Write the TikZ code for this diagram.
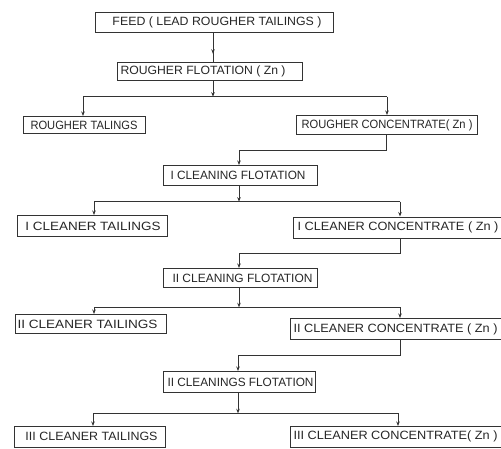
\documentclass[tikz,border=0pt]{standalone}
\usepackage{fontspec}
\setmainfont{Liberation Sans}
\usetikzlibrary{arrows.meta,decorations.markings}
\newcommand{\bxt}[4]{\makebox[#1][l]{\hspace{#2}\resizebox{#3}{\height}{#4}}}
\tikzset{
  flowbox/.style={draw=black!80, line width=1pt, inner xsep=0pt, inner ysep=0pt,
    anchor=north west, text=black!85, font=\fontsize{12}{12}\selectfont},
  link/.style={draw=black!80, line width=1pt},
  arr/.style={link, -{Stealth[length=4.5pt,width=3.5pt]}},
  midarr/.style={link, postaction={decorate},
    decoration={markings, mark=at position #1 with {\arrow{Stealth[length=4.5pt,width=3.5pt]}}}}
}
\begin{document}
\begin{tikzpicture}[x=1pt,y=-1pt]
\useasboundingbox (0,0) rectangle (501,448);
\clip (0,0) rectangle (501,448);
% boxes
\node[flowbox, minimum height=20pt] (feed) at (95,11.7) {\bxt{238pt}{17pt}{209pt}{FEED ( LEAD ROUGHER TAILINGS )}};
\node[flowbox, minimum height=18pt] (rflot) at (117,62) {\bxt{185pt}{3pt}{165pt}{ROUGHER FLOTATION ( Zn )}};
\node[flowbox, minimum height=17pt] (rtail) at (23,116) {\bxt{122pt}{7pt}{107pt}{ROUGHER TALINGS}};
\node[flowbox, minimum height=19pt] (rconc) at (296,115) {\bxt{181pt}{5pt}{171pt}{ROUGHER CONCENTRATE( Zn )}};
\node[flowbox, minimum height=20pt] (cflot1) at (163,165) {\bxt{154pt}{7pt}{135pt}{I CLEANING FLOTATION}};
\node[flowbox, minimum height=21pt] (ctail1) at (17,215) {\bxt{150pt}{8pt}{135pt}{I CLEANER TAILINGS}};
\node[flowbox, minimum height=21pt] (cconc1) at (293,216.5) {\bxt{212pt}{4pt}{201pt}{I CLEANER CONCENTRATE ( Zn )}};
\node[flowbox, minimum height=19pt] (cflot2) at (163,268) {\bxt{154pt}{9pt}{140pt}{II CLEANING FLOTATION}};
\node[flowbox, minimum height=19pt] (ctail2) at (15,314) {\bxt{151pt}{2pt}{140pt}{II CLEANER TAILINGS}};
\node[flowbox, minimum height=21pt] (cconc2) at (290,318) {\bxt{215pt}{3pt}{204pt}{II CLEANER CONCENTRATE ( Zn )}};
\node[flowbox, minimum height=21pt] (cflot3) at (163,371) {\bxt{152pt}{4pt}{146pt}{II CLEANINGS FLOTATION}};
\node[flowbox, minimum height=20.5pt] (ctail3) at (14,426) {\bxt{151pt}{11pt}{132pt}{III CLEANER TAILINGS}};
\node[flowbox, minimum height=20.5pt] (cconc3) at (290,426) {\bxt{215pt}{3pt}{204pt}{III CLEANER CONCENTRATE( Zn )}};
% junction coordinates
\coordinate (j1) at (213,96.7); \coordinate (j1l) at (83,96.7); \coordinate (j1r) at (387,96.7);
\coordinate (k1) at (386,150); \coordinate (k1l) at (239,150);
\coordinate (j2) at (239,201.7); \coordinate (j2l) at (94,201.7); \coordinate (j2r) at (400,201.7);
\coordinate (k2) at (400,253.3); \coordinate (k2l) at (239,253.3);
\coordinate (j3) at (239,307.3); \coordinate (j3l) at (94,307.3); \coordinate (j3r) at (400,307.3);
\coordinate (k3) at (400,355); \coordinate (k3l) at (238,355);
\coordinate (j4) at (238,413.3); \coordinate (j4l) at (93,413.3); \coordinate (j4r) at (398,413.3);
% stage 1
\draw[midarr=0.72] (feed.south -| j1) -- (rflot.north -| j1);
\draw[arr] (rflot.south -| j1) -- (j1);
\draw[link] (j1l) -- (j1r);
\draw[arr] (j1l) -- (j1l |- rtail.north);
\draw[arr] (j1r) -- (j1r |- rconc.north);
\draw[arr] (rconc.south -| k1) -- (k1) -- (k1l) -- (k1l |- cflot1.north);
% stage 2
\draw[arr] (cflot1.south -| j2) -- (j2);
\draw[link] (j2l) -- (j2r);
\draw[arr] (j2l) -- (j2l |- ctail1.north);
\draw[arr] (j2r) -- (j2r |- cconc1.north);
\draw[arr] (cconc1.south -| k2) -- (k2) -- (k2l) -- (k2l |- cflot2.north);
% stage 3
\draw[arr] (cflot2.south -| j3) -- (j3);
\draw[link] (j3l) -- (j3r);
\draw[arr] (j3l) -- (j3l |- ctail2.north);
\draw[arr] (j3r) -- (j3r |- cconc2.north);
\draw[arr] (cconc2.south -| k3) -- (k3) -- (k3l) -- (k3l |- cflot3.north);
% stage 4
\draw[arr] (cflot3.south -| j4) -- (j4);
\draw[link] (j4l) -- (j4r);
\draw[arr] (j4l) -- (j4l |- ctail3.north);
\draw[arr] (j4r) -- (j4r |- cconc3.north);
\end{tikzpicture}
\end{document}
